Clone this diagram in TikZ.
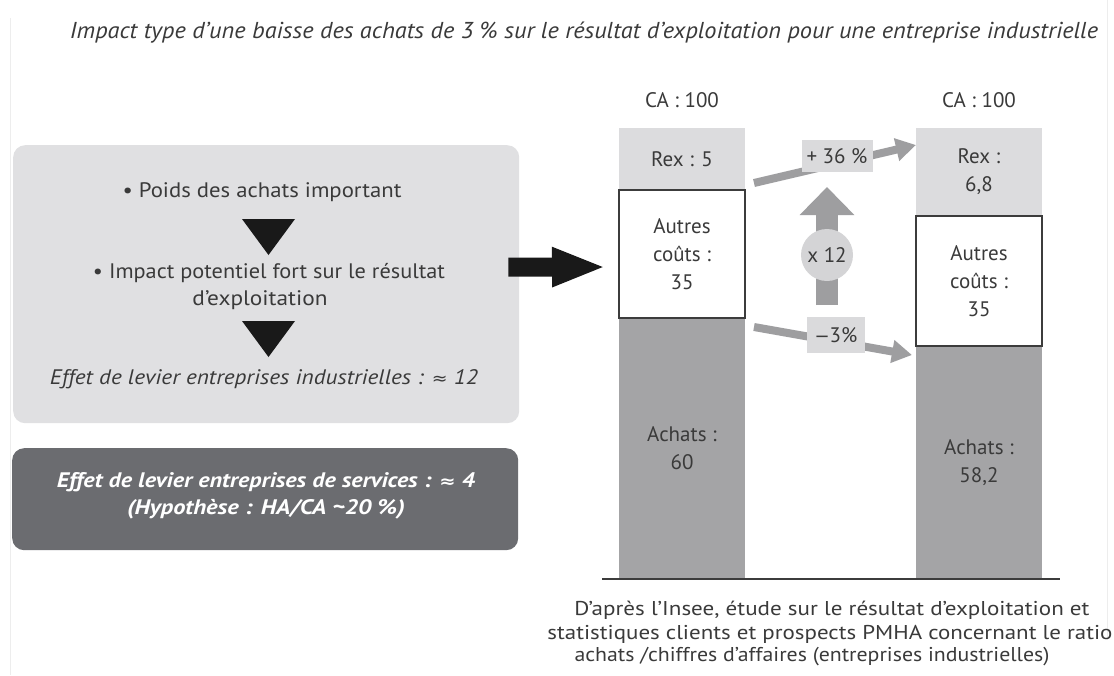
\documentclass[tikz,border=0pt]{standalone}
\usepackage{graphicx}
\usepackage{fontspec}
\setmainfont{PT Sans}
\newfontfamily\symfont{DejaVu Sans}
\usetikzlibrary{arrows.meta,calc}

\definecolor{txt}{HTML}{3A3A3A}
\definecolor{panel}{HTML}{E0E0E2}
\definecolor{darkpanel}{HTML}{6B6C70}
\definecolor{rexfill}{HTML}{DCDCDE}
\definecolor{achfill}{HTML}{A4A4A6}
\definecolor{segline}{HTML}{3C3C3C}
\definecolor{flow}{HTML}{9E9EA0}
\definecolor{tagfill}{HTML}{DADADC}
\definecolor{circfill}{HTML}{D4D4D6}
\definecolor{edge}{HTML}{EDEDED}

\newcommand{\fitwidth}[2]{\resizebox{#1}{\height}{#2}}

\begin{document}
\begin{tikzpicture}[x=1pt,y=-1pt,
  body/.style={text=txt, font=\fontsize{21}{26}\selectfont, align=center, inner sep=0pt},
  segment/.style={anchor=north west, minimum width=126pt, inner sep=0pt, outer sep=0pt,
    align=center, text=txt, font=\fontsize{21}{28}\selectfont},
  flowarrow/.style={draw=flow, line width=8pt, -{Triangle[length=20pt,width=22pt]}},
  tag/.style={fill=tagfill, inner sep=0pt, minimum height=32pt, text=txt,
    font=\fontsize{21}{24}\selectfont},
  panelbox/.style={anchor=north west, rounded corners=12pt, inner sep=0pt,
    minimum width=506pt},
  pointer/.style={fill=black!90}
]
\useasboundingbox (0,0) rectangle (1114,675);
\fill[white] (0,0) rectangle (1114,675);

% faint page edges
\coordinate (edgeLtop) at (10,18);
\coordinate (edgeLbot) at (10,675);
\coordinate (edgeRtop) at (1107,0);
\coordinate (edgeRbot) at (1107,640);
\draw[edge, line width=1pt] (edgeLtop) -- (edgeLbot);
\draw[edge, line width=1pt] (edgeRtop) -- (edgeRbot);

% title
\node[text=txt, inner sep=0pt, font=\itshape\fontsize{23}{26}\selectfont] (title) at (584,33)
  {\fitwidth{1028pt}{Impact type d’une baisse des achats de 3 \% sur le résultat d’exploitation pour une entreprise industrielle}};

% left panels
\node[panelbox, fill=panel, minimum height=278pt] (panel) at (13,145) {};
\node[panelbox, fill=darkpanel, minimum height=102pt] (service) at (12,448) {};

\node[body] (poids) at (262,192) {\fitwidth{279pt}{• Poids des achats important}};
\node[body] (impact) at (269,273) {\fitwidth{352pt}{• Impact potentiel fort sur le résultat}};
\node[body] (exploit) at (260,300) {\fitwidth{135pt}{d’exploitation}};
\node[body, font=\itshape\fontsize{21}{26}\selectfont] (levier) at (264,379)
  {\fitwidth{428pt}{Effet de levier entreprises industrielles : {\symfont\itshape\fontsize{17}{20}\selectfont ≈} 12}};

\fill[pointer] (242,219) -- (295,219) -- (268.5,255) -- cycle;
\fill[pointer] (242,321) -- (295,321) -- (268.5,357) -- cycle;

\node[body, text=white, font=\bfseries\itshape\fontsize{21}{26}\selectfont] (serv1) at (266,482)
  {\fitwidth{418pt}{Effet de levier entreprises de services : {\symfont\itshape\fontsize{17}{20}\selectfont ≈} 4}};
\node[body, text=white, font=\bfseries\itshape\fontsize{21}{26}\selectfont] (serv2) at (266,509)
  {\fitwidth{278pt}{(Hypothèse : HA/CA \textasciitilde 20 \%)}};

% bars
\node[segment, fill=achfill, minimum height=261pt] (achats1) at (619,318) {Achats :\\60};
\node[segment, fill=rexfill, minimum height=62pt] (rex1) at (619,128) {Rex : 5};
\node[segment, fill=white, draw=segline, line width=1.3pt, minimum height=128pt] (autres1) at (619,190)
  {Autres\\coûts :\\35};

\node[segment, fill=achfill, minimum height=233pt] (achats2) at (916,346) {Achats :\\58,2};
\node[segment, fill=rexfill, minimum height=88pt] (rex2) at (916,128) {Rex :\\6,8};
\node[segment, fill=white, draw=segline, line width=1.3pt, minimum height=130pt] (autres2) at (916,216)
  {Autres\\coûts :\\35};

\node[body] (ca1) at (682,100) {CA : 100};
\node[body] (ca2) at (979,100) {CA : 100};

\coordinate (axisL) at (602,579);
\coordinate (axisR) at (1060,579);
\draw[segline, line width=1.3pt] (axisL) -- (axisR);

% lever arrow
\draw[line width=19pt, black!90, -{Triangle[length=54pt,width=36pt]}]
  ([xshift=-11pt,yshift=17pt]panel.east) -- ([xshift=-13pt,yshift=-13pt]autres1.west);

% flows between the bars
\draw[flowarrow] ([xshift=9pt,yshift=7pt]rex1.south east) -- ([yshift=-17pt]rex2.north west);
\node[tag, minimum width=71pt] (gain) at (837,156) {+ 36 \%};
\draw[flowarrow] ([xshift=9pt,yshift=-9pt]autres1.south east) -- ([xshift=-4pt,yshift=-9pt]achats2.north west);
\node[tag, minimum width=58pt, minimum height=36pt] (drop) at (836,335) {{\symfont\fontsize{18}{20}\selectfont −}3\%};

\coordinate (multfoot) at (827,305);
\coordinate (multtip) at (827,187);
\draw[draw=flow, line width=22pt, -{Triangle[length=28pt,width=53pt]}] (multfoot) -- (multtip);
\node[circle, fill=circfill, minimum size=52pt, body] (mult) at (827,255) {x 12};

% source
\node[body, font=\fontsize{20}{23}\selectfont] (src1) at (832,610)
  {\fitwidth{515pt}{D’après l’Insee, étude sur le résultat d’exploitation et}};
\node[body, font=\fontsize{20}{23}\selectfont] (src2) at (830,634)
  {\fitwidth{565pt}{statistiques clients et prospects PMHA concernant le ratio}};
\node[body, font=\fontsize{20}{23}\selectfont] (src3) at (812,657)
  {\fitwidth{475pt}{achats /chiffres d’affaires (entreprises industrielles)}};
\end{tikzpicture}
\end{document}
